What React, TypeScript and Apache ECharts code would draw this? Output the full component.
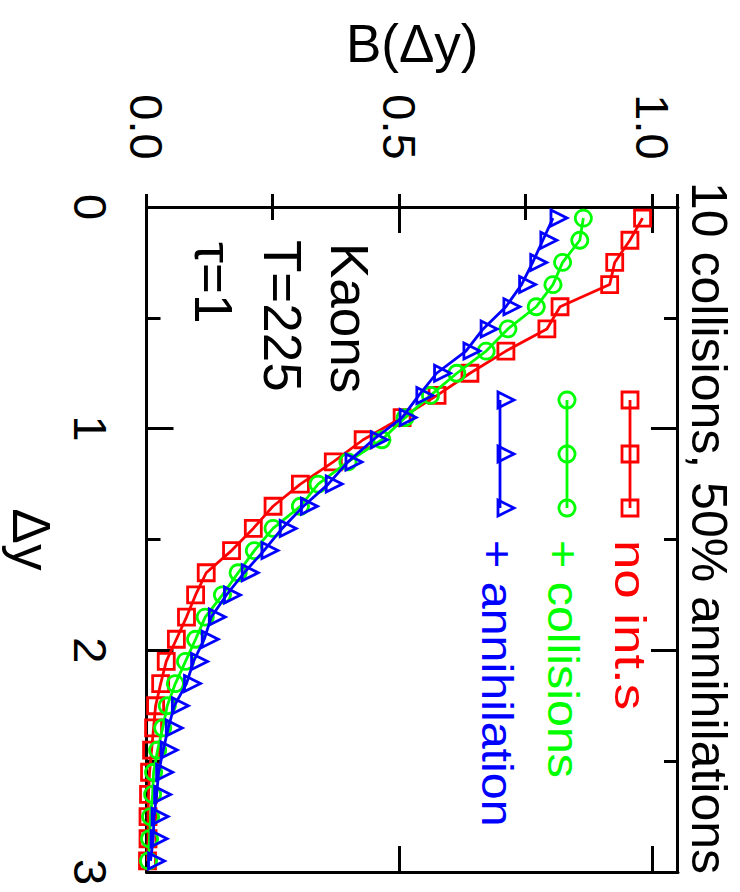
import React, { useEffect, useRef } from "react";
import * as echarts from "echarts";

// ---- data ----
const deltaY = [
  0.05, 0.15, 0.25, 0.35, 0.45, 0.55, 0.65, 0.75, 0.85, 0.95,
  1.05, 1.15, 1.25, 1.35, 1.45, 1.55, 1.65, 1.75, 1.85, 1.95,
  2.05, 2.15, 2.25, 2.35, 2.45, 2.55, 2.65, 2.75, 2.85, 2.95,
];
const noInt = [
  0.98, 0.955, 0.925, 0.915, 0.817, 0.791, 0.71, 0.639, 0.574, 0.505,
  0.428, 0.369, 0.304, 0.25, 0.211, 0.168, 0.118, 0.097, 0.079, 0.059,
  0.039, 0.028, 0.018, 0.014, 0.01, 0.006, 0.004, 0.003, 0.003, 0.002,
];
const collisions = [
  0.863, 0.856, 0.822, 0.803, 0.77, 0.714, 0.671, 0.613, 0.561, 0.511,
  0.465, 0.398, 0.339, 0.304, 0.25, 0.213, 0.181, 0.15, 0.116, 0.097,
  0.077, 0.057, 0.041, 0.032, 0.022, 0.014, 0.012, 0.008, 0.006, 0.004,
];
const annihilation = [
  0.803, 0.783, 0.763, 0.741, 0.71, 0.665, 0.631, 0.573, 0.538, 0.505,
  0.448, 0.398, 0.359, 0.31, 0.268, 0.232, 0.193, 0.158, 0.128, 0.114,
  0.093, 0.079, 0.055, 0.043, 0.033, 0.024, 0.02, 0.015, 0.013, 0.008,
];
const titleText = "10 collisions, 50% annihilations";
const xAxisName = "Δy";
const yAxisName = "B(Δy)";
const legendLabels = ["no int.s", "+ collisions", "+ annihilation"];
const noteLines = ["Kaons", "T=225", "τ=1"];

const FONT = "'Liberation Sans', Arial, Helvetica, sans-serif";
const RED = "#ff0000";
const GREEN = "#00ff00";
const BLUE = "#0000ff";
const BLACK = "#000000";

export default function App() {
  const ref = useRef<HTMLDivElement>(null);

  useEffect(() => {
    if (!ref.current) return;
    const chart = echarts.init(ref.current, null, { renderer: "svg" });
    const pairs = (arr: number[]) => deltaY.map((d, i) => [d, arr[i]]);

    const axisLine = { show: true, onZero: false, lineStyle: { color: BLACK, width: 3 } };
    const tickStyle = { color: BLACK, width: 3 };

    const xCommon = {
      type: "value",
      min: 0,
      max: 3,
      interval: 1,
      axisLine,
      axisTick: { show: true, inside: true, length: 27, lineStyle: tickStyle },
      minorTick: { show: true, splitNumber: 2, length: 14, lineStyle: tickStyle },
      splitLine: { show: false },
      minorSplitLine: { show: false },
    };
    const yMajor = {
      type: "value",
      min: 0,
      max: 1.05,
      interval: 0.5,
      axisLine,
      axisTick: { show: true, inside: true, length: 26, lineStyle: tickStyle },
      splitLine: { show: false },
    };
    const yMinor = {
      type: "value",
      min: 0,
      max: 1.05,
      interval: 0.25,
      axisLine: { show: false },
      axisTick: { show: true, inside: true, length: 13, lineStyle: tickStyle },
      axisLabel: { show: false },
      splitLine: { show: false },
    };

    const LW = 2.8;
    const SYM = 16;
    const half = SYM / 2;

    // legend rows (unrotated frame)
    const legendX = [400, 454, 508];
    const legendRows = [110, 173, 240];
    const graphic: any[] = [];
    // red squares
    graphic.push({
      type: "polyline",
      shape: { points: [[legendX[0], legendRows[0]], [legendX[2], legendRows[0]]] },
      style: { stroke: RED, lineWidth: LW, fill: "none" },
    });
    legendX.forEach((x) =>
      graphic.push({
        type: "rect",
        shape: { x: x - half, y: legendRows[0] - half, width: 2 * half, height: 2 * half },
        style: { stroke: RED, lineWidth: LW, fill: "none" },
      })
    );
    // green circles
    graphic.push({
      type: "polyline",
      shape: { points: [[legendX[0], legendRows[1]], [legendX[2], legendRows[1]]] },
      style: { stroke: GREEN, lineWidth: LW, fill: "none" },
    });
    legendX.forEach((x) =>
      graphic.push({
        type: "circle",
        shape: { cx: x, cy: legendRows[1], r: half },
        style: { stroke: GREEN, lineWidth: LW, fill: "none" },
      })
    );
    // blue triangles
    graphic.push({
      type: "polyline",
      shape: { points: [[legendX[0], legendRows[2]], [legendX[2], legendRows[2]]] },
      style: { stroke: BLUE, lineWidth: LW, fill: "none" },
    });
    legendX.forEach((x) =>
      graphic.push({
        type: "polygon",
        shape: {
          points: [
            [x - 8, legendRows[2] + 2],
            [x + 8, legendRows[2] + 2],
            [x, legendRows[2] - 14],
          ],
        },
        style: { stroke: BLUE, lineWidth: LW, fill: "none" },
      })
    );
    const legendColors = [RED, GREEN, BLUE];
    const legendTextY = [110, 177, 243];
    const legendScale = [1.2, 1.1, 1.1];
    legendLabels.forEach((t, i) =>
      graphic.push({
        type: "text",
        x: 540,
        y: legendTextY[i],
        scaleX: legendScale[i],
        style: {
          text: t,
          fontSize: 44,
          fontFamily: FONT,
          fill: legendColors[i],
          align: "left",
          verticalAlign: "middle",
        },
      })
    );
    const noteY = [391, 458, 527];
    const noteX = [243, 240, 242];
    noteLines.forEach((t, i) =>
      graphic.push({
        type: "text",
        x: noteX[i],
        y: noteY[i],
        style: {
          text: t,
          fontSize: 53,
          fontFamily: FONT,
          fill: BLACK,
          align: "left",
          verticalAlign: "middle",
        },
      })
    );

    const series = [
      {
        name: legendLabels[0],
        type: "line",
        data: pairs(noInt),
        symbol: "rect",
        symbolSize: SYM,
        lineStyle: { color: RED, width: LW },
        itemStyle: { color: "rgba(0,0,0,0)", borderColor: RED, borderWidth: LW },
        z: 3,
      },
      {
        name: legendLabels[1],
        type: "line",
        data: pairs(collisions),
        symbol: "circle",
        symbolSize: SYM,
        lineStyle: { color: GREEN, width: LW },
        itemStyle: { color: "rgba(0,0,0,0)", borderColor: GREEN, borderWidth: LW },
        z: 4,
      },
      {
        name: legendLabels[2],
        type: "line",
        data: pairs(annihilation),
        symbol: "triangle",
        symbolSize: [16, 16],
        symbolOffset: [0, -6],
        lineStyle: { color: BLUE, width: LW },
        itemStyle: { color: "rgba(0,0,0,0)", borderColor: BLUE, borderWidth: LW },
        z: 5,
      },
    ].map((s) => ({ ...s, xAxisIndex: 0, yAxisIndex: 0, showAllSymbol: true, clip: false, emphasis: { disabled: true } }));

    const option: any = {
      animation: false,
      backgroundColor: "#ffffff",
      title: {
        text: titleText,
        left: 528,
        top: 31,
        textAlign: "center",
        textVerticalAlign: "middle",
        padding: 0,
        textStyle: { fontSize: 50, fontWeight: "normal", fontFamily: FONT, color: BLACK },
      },
      grid: { left: 207, right: 20, top: 62, bottom: 146, containLabel: false },
      xAxis: [
        {
          ...xCommon,
          position: "bottom",
          axisLabel: {
            show: true,
            margin: 56,
            verticalAlign: "middle",
            fontSize: 47,
            fontFamily: FONT,
            color: BLACK,
          },
          name: xAxisName,
          nameLocation: "middle",
          nameGap: 115,
          nameTextStyle: { fontSize: 53, fontFamily: FONT, color: BLACK, verticalAlign: "middle" },
        },
        { ...xCommon, position: "top", axisLabel: { show: false } },
      ],
      yAxis: [
        {
          ...yMajor,
          position: "left",
          axisLabel: {
            show: true,
            showMaxLabel: false,
            margin: 80,
            align: "center",
            fontSize: 47,
            fontFamily: FONT,
            color: BLACK,
            formatter: (v: number) => v.toFixed(1),
          },
          name: yAxisName,
          nameLocation: "middle",
          nameGap: 164,
          nameRotate: 90,
          nameTextStyle: { fontSize: 53, fontFamily: FONT, color: BLACK, verticalAlign: "middle" },
        },
        { ...yMinor, position: "left" },
        { ...yMajor, position: "right", axisLabel: { show: false } },
        { ...yMinor, position: "right" },
      ],
      series,
      graphic,
    };
    chart.setOption(option);
    return () => chart.dispose();
  }, []);

  return (
    <div
      style={{
        position: "fixed",
        left: 0,
        top: 0,
        width: 740,
        height: 892,
        overflow: "hidden",
        background: "#fff",
      }}
    >
      <div
        ref={ref}
        style={{
          width: 892,
          height: 740,
          transformOrigin: "0 0",
          transform: "translate(740px, 0px) rotate(90deg)",
        }}
      />
    </div>
  );
}
